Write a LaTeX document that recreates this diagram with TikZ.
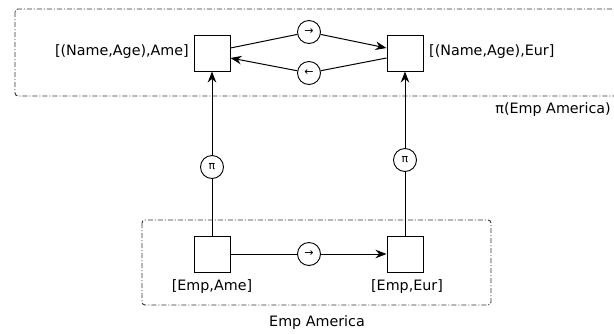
\documentclass[tikz,border=0pt]{standalone}
\usepackage{fontspec}
\setmainfont{DejaVu Sans}
\usetikzlibrary{arrows.meta}
\tikzset{
  sq/.style={draw, line width=1pt, minimum size=36pt, inner sep=0pt},
  op/.style={draw, circle, line width=0.9pt, minimum size=23pt, inner sep=0pt, font=\fontsize{11}{13}\selectfont},
  lbl/.style={font=\fontsize{14.3}{17}\selectfont, inner sep=0pt},
  grp/.style={draw=black!80, line width=0.9pt, rounded corners=3pt, dash pattern=on 5pt off 2pt on 1pt off 2pt},
  link/.style={line width=1pt},
  arr/.style={link, -{Stealth[length=11pt, width=8.5pt]}}
}
\begin{document}
\begin{tikzpicture}[x=1pt, y=-1pt]
  \useasboundingbox (0,0) rectangle (614,333);

  % group frames
  \draw[grp] (15,9) rectangle (620,96);
  \draw[grp] (142,220) rectangle (491,305);
  \node[lbl, anchor=east] (gtop) at (611,110) {π(Emp America)};
  \node[lbl] (gbot) at (317,323) {Emp America};

  % objects
  \node[sq] (A) at (212,53) {};
  \node[sq] (B) at (405,53) {};
  \node[sq] (C) at (212,254) {};
  \node[sq] (D) at (405,254) {};

  \node[lbl, anchor=east] (la) at (189,52) {[(Name,Age),Ame]};
  \node[lbl, anchor=west] (lb) at (429,52) {[(Name,Age),Eur]};
  \node[lbl] (lc) at (212,287) {[Emp,Ame]};
  \node[lbl] (ld) at (407,287) {[Emp,Eur]};

  % operators
  \node[op] (ct) at (309,32) {→};
  \node[op] (cb) at (309,73) {←};
  \node[op] (pl) at (212,167) {π};
  \node[op] (pr) at (405,160) {π};
  \node[op] (cm) at (309,254) {→};

  % connectors
  \draw[link] ([yshift=5pt]A.east) -- (ct);
  \draw[arr] (ct) -- ([yshift=5pt]B.west);
  \draw[link] ([yshift=-5pt]B.west) -- (cb);
  \draw[arr] (cb) -- ([yshift=-5pt]A.east);

  \draw[link] (C) -- (pl);
  \draw[arr] (pl) -- (A);
  \draw[link] (D) -- (pr);
  \draw[arr] (pr) -- (B);

  \draw[link] (C) -- (cm);
  \draw[arr] (cm) -- (D);
\end{tikzpicture}
\end{document}
